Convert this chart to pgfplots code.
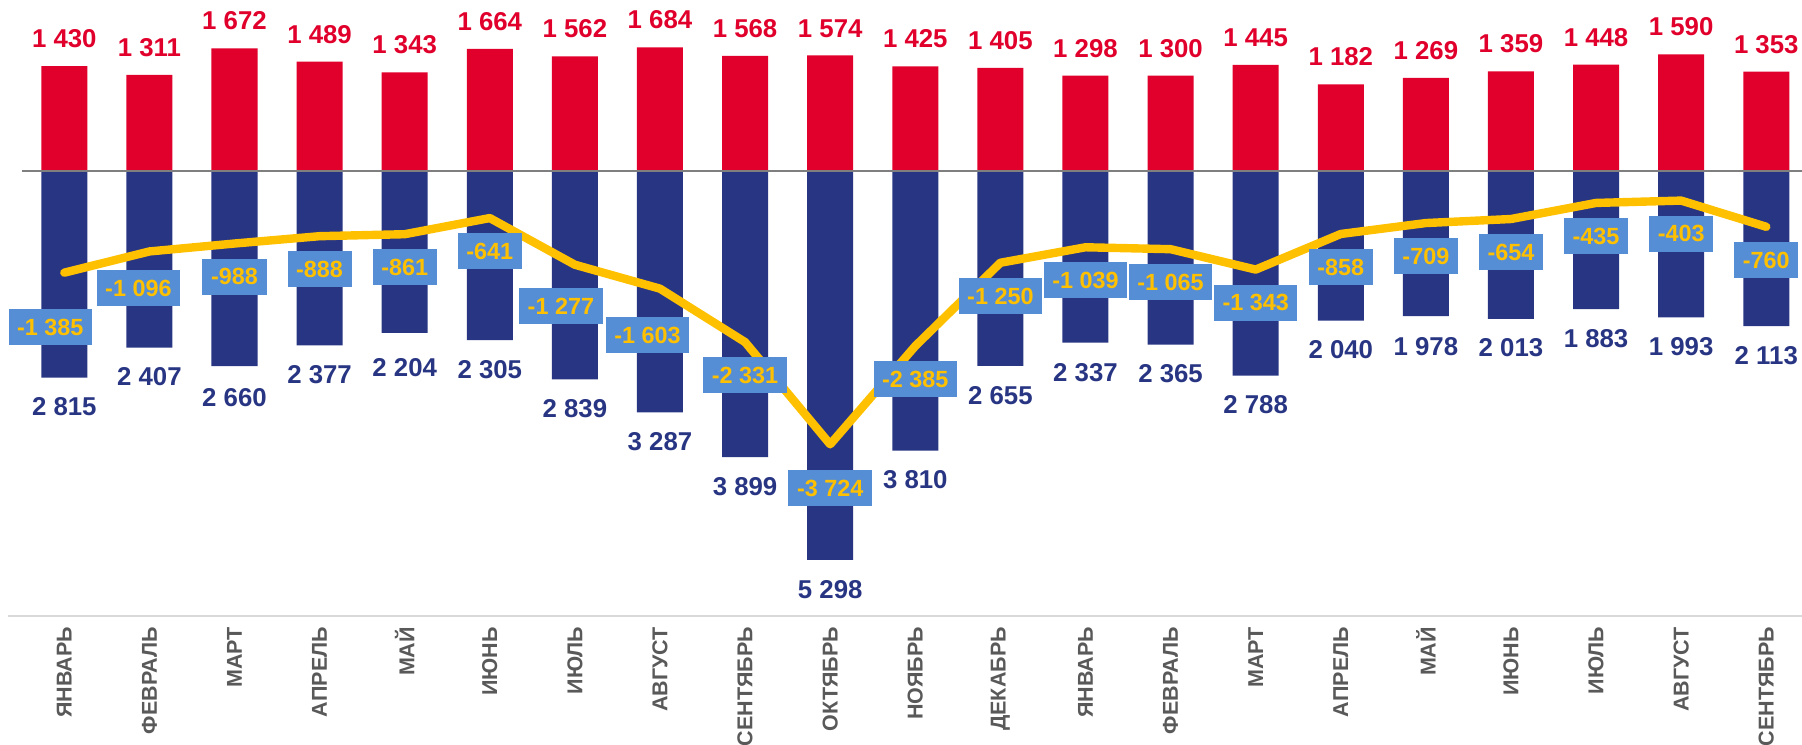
\documentclass[border=0pt]{standalone}
\usepackage{fontspec}
\setmainfont{Liberation Sans}
\usepackage{pgfplots}
\usepackage{pgfplotstable}
\pgfplotsset{compat=1.18}
\pgfkeys{/pgf/number format/.cd, assume math mode=true, 1000 sep={\ }}
\definecolor{redc}{HTML}{E0002B}
\definecolor{navy}{HTML}{283583}
\definecolor{gold}{HTML}{FFC000}
\definecolor{boxc}{HTML}{558ED5}
\definecolor{txtgray}{HTML}{595959}
\definecolor{zerog}{HTML}{7F7F7F}
\definecolor{axisg}{HTML}{D9D9D9}

\pgfplotstableread{
x in out neg net dx dy ndy
0 1430 2815 -2815 -1385 -7 27 9.9
1 1311 2407 -2407 -1096 -5.5 18.25 9.9
2 1672 2660 -2660 -988 0 16.5 10.8
3 1489 2377 -2377 -888 0 16.5 9.9
4 1343 2204 -2204 -861 0 16.5 12.6
5 1664 2305 -2305 -641 0 16.5 9.9
6 1562 2839 -2839 -1277 -7 20.5 9.9
7 1684 3287 -3287 -1603 -6.2 23 9.9
8 1568 3899 -3899 -2331 0 16.5 9.9
9 1574 5298 -5298 -3724 0 22 9.9
10 1425 3810 -3810 -2385 0 16.5 9.9
11 1405 2655 -2655 -1250 0 16.5 9.9
12 1298 2337 -2337 -1039 0 16.5 10.5
13 1300 2365 -2365 -1065 0 16.5 9.9
14 1445 2788 -2788 -1343 0 16.5 9.9
15 1182 2040 -2040 -858 0 16.5 9.9
16 1269 1978 -1978 -709 0 16.5 10.3
17 1359 2013 -2013 -654 0 16.5 9.9
18 1448 1883 -1883 -435 0 16.5 9.9
19 1590 1993 -1993 -403 0 16.5 9.9
20 1353 2113 -2113 -760 0 16.5 9.9
}\data

\begin{document}
\begin{tikzpicture}
\begin{axis}[
  scale only axis, width=890.125pt, height=308.15pt,
  xmin=-0.5, xmax=20.42, ymin=-6067, ymax=2330,
  axis x line*=bottom, axis y line=none, ytick=\empty,
  x axis line style={draw=axisg, line width=1pt, -, shorten <=-6.9pt},
  xtick={0,...,20},
  xticklabels={ЯНВАРЬ,ФЕВРАЛЬ,МАРТ,АПРЕЛЬ,МАЙ,ИЮНЬ,ИЮЛЬ,АВГУСТ,СЕНТЯБРЬ,ОКТЯБРЬ,НОЯБРЬ,ДЕКАБРЬ,ЯНВАРЬ,ФЕВРАЛЬ,МАРТ,АПРЕЛЬ,МАЙ,ИЮНЬ,ИЮЛЬ,АВГУСТ,СЕНТЯБРЬ},
  major tick length=0pt,
  xticklabel style={rotate=90, anchor=east, inner xsep=5.2pt, inner ysep=0pt,
    font=\fontsize{10.75}{13}\selectfont\bfseries, text=txtgray},
  clip=false,
]
\addplot[ybar, bar width=23pt, bar shift=0pt, fill=redc, draw=none,
  nodes near coords={\pgfmathprintnumber{\pgfplotspointmeta}}, point meta=explicit,
  every node near coord/.append style={anchor=south, inner sep=0pt, yshift=8.9pt,
    font=\fontsize{12.9}{15}\selectfont\bfseries, text=redc}]
  table[x=x, y=in, meta=in]{\data};
\addplot[ybar, bar width=23pt, bar shift=0pt, fill=navy, draw=none,
  nodes near coords={\pgfmathprintnumber{\pgfplotspointmeta}}, point meta=explicit,
  visualization depends on={\thisrow{ndy}\as\ndy},
  every node near coord/.append style={anchor=north, inner sep=0pt, yshift={-\ndy pt},
    font=\fontsize{12.9}{15}\selectfont\bfseries, text=navy}]
  table[x=x, y=neg, meta=out]{\data};
\addplot[zerog, line width=1.25pt, forget plot] coordinates {(-0.5,0) (20.42,0)};
\addplot[gold, line width=4.2pt, line join=round, line cap=round, mark=none,
  nodes near coords={\pgfmathprintnumber{\pgfplotspointmeta}}, point meta=explicit,
  visualization depends on={\thisrow{dx}\as\dx},
  visualization depends on={\thisrow{dy}\as\dy},
  every node near coord/.append style={anchor=center, xshift={\dx pt}, yshift={-\dy pt},
    fill=boxc, text=gold, inner xsep=4.3pt, inner ysep=4.8pt, text height=8.4pt, text depth=0pt,
    font=\fontsize{11.7}{14}\selectfont\bfseries}]
  table[x=x, y=net, meta=net]{\data};
\end{axis}
\pgfresetboundingbox
\path[use as bounding box] (-10.875pt,-63.85pt) rectangle (890.125pt,308.15pt);
\end{tikzpicture}
\end{document}
